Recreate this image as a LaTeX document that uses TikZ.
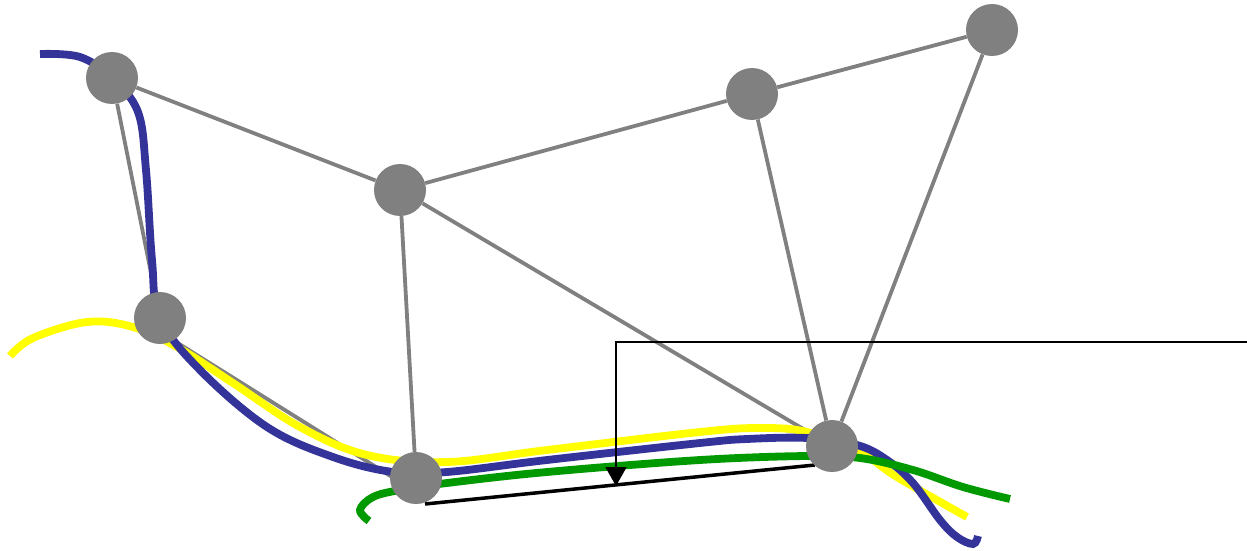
\documentclass[tikz,border=0pt]{standalone}
\usetikzlibrary{arrows.meta,backgrounds}
\definecolor{nodegray}{HTML}{808080}
\definecolor{pathblue}{HTML}{333399}
\definecolor{pathyellow}{HTML}{FFFF00}
\definecolor{pathgreen}{HTML}{009900}
\tikzset{
  vertex/.style={circle,fill=nodegray,draw=none,minimum size=52pt,inner sep=0pt},
  edge/.style={draw=nodegray,line width=3.8pt},
  route/.style={line width=7.8pt},
  guide/.style={draw=black,line width=1.8pt},
  marker/.style={draw=black,line width=3.5pt}
}
\begin{document}
\begin{tikzpicture}[x=1pt,y=-1pt]
\useasboundingbox (0,0) rectangle (1247,551);
\node[vertex] (A) at (112,78) {};
\node[vertex] (B) at (400,190) {};
\node[vertex] (C) at (752,94) {};
\node[vertex] (D) at (992,30) {};
\node[vertex] (E) at (160,318) {};
\node[vertex] (F) at (416,478) {};
\node[vertex] (G) at (832,446) {};
\coordinate (m1) at (425,504);
\coordinate (m2) at (815,465);
\coordinate (g0) at (1247,342);
\coordinate (g1) at (616,342);
\coordinate (g2) at (616,486);
\begin{scope}[on background layer]
\draw[edge] (A) -- (B);
\draw[edge] (A) -- (E);
\draw[edge] (B) -- (C);
\draw[edge] (C) -- (D);
\draw[edge] (B) -- (F);
\draw[edge] (B) -- (G);
\draw[edge] (C) -- (G);
\draw[edge] (D) -- (G);
\draw[edge] ([yshift=-14pt]E.center) -- ([yshift=-14pt]F.center);
\draw[route,pathyellow] plot[smooth,tension=0.6] coordinates {(10,356) (33,338) (87,322) (133,327) (177,347) (233,383) (300,427) (367,455) (447,462) (547,450) (700,432) (760,428) (807,432) (860,452) (897,477) (967,517)};
\draw[route,pathblue] plot[smooth,tension=0.6] coordinates {(40,54) (80,57) (112,78) (138,112) (146,170) (152,260) (160,318) (200,370) (267,427) (333,457) (393,472) (447,472) (547,460) (700,443) (747,439) (807,438) (857,445) (887,460) (913,483) (940,520) (957,537) (973,544) (978,536)};
\draw[route,pathgreen] plot[smooth,tension=0.6] coordinates {(369,521) (360,510) (373,497) (400,490) (447,483) (547,472) (700,460) (807,456) (860,458) (913,470) (963,487) (1010,499)};
\draw[marker] (m1) -- (m2);
\draw[guide,-{Triangle[width=21pt,length=19pt]}] (g0) -- (g1) -- (g2);
\end{scope}
\end{tikzpicture}
\end{document}
